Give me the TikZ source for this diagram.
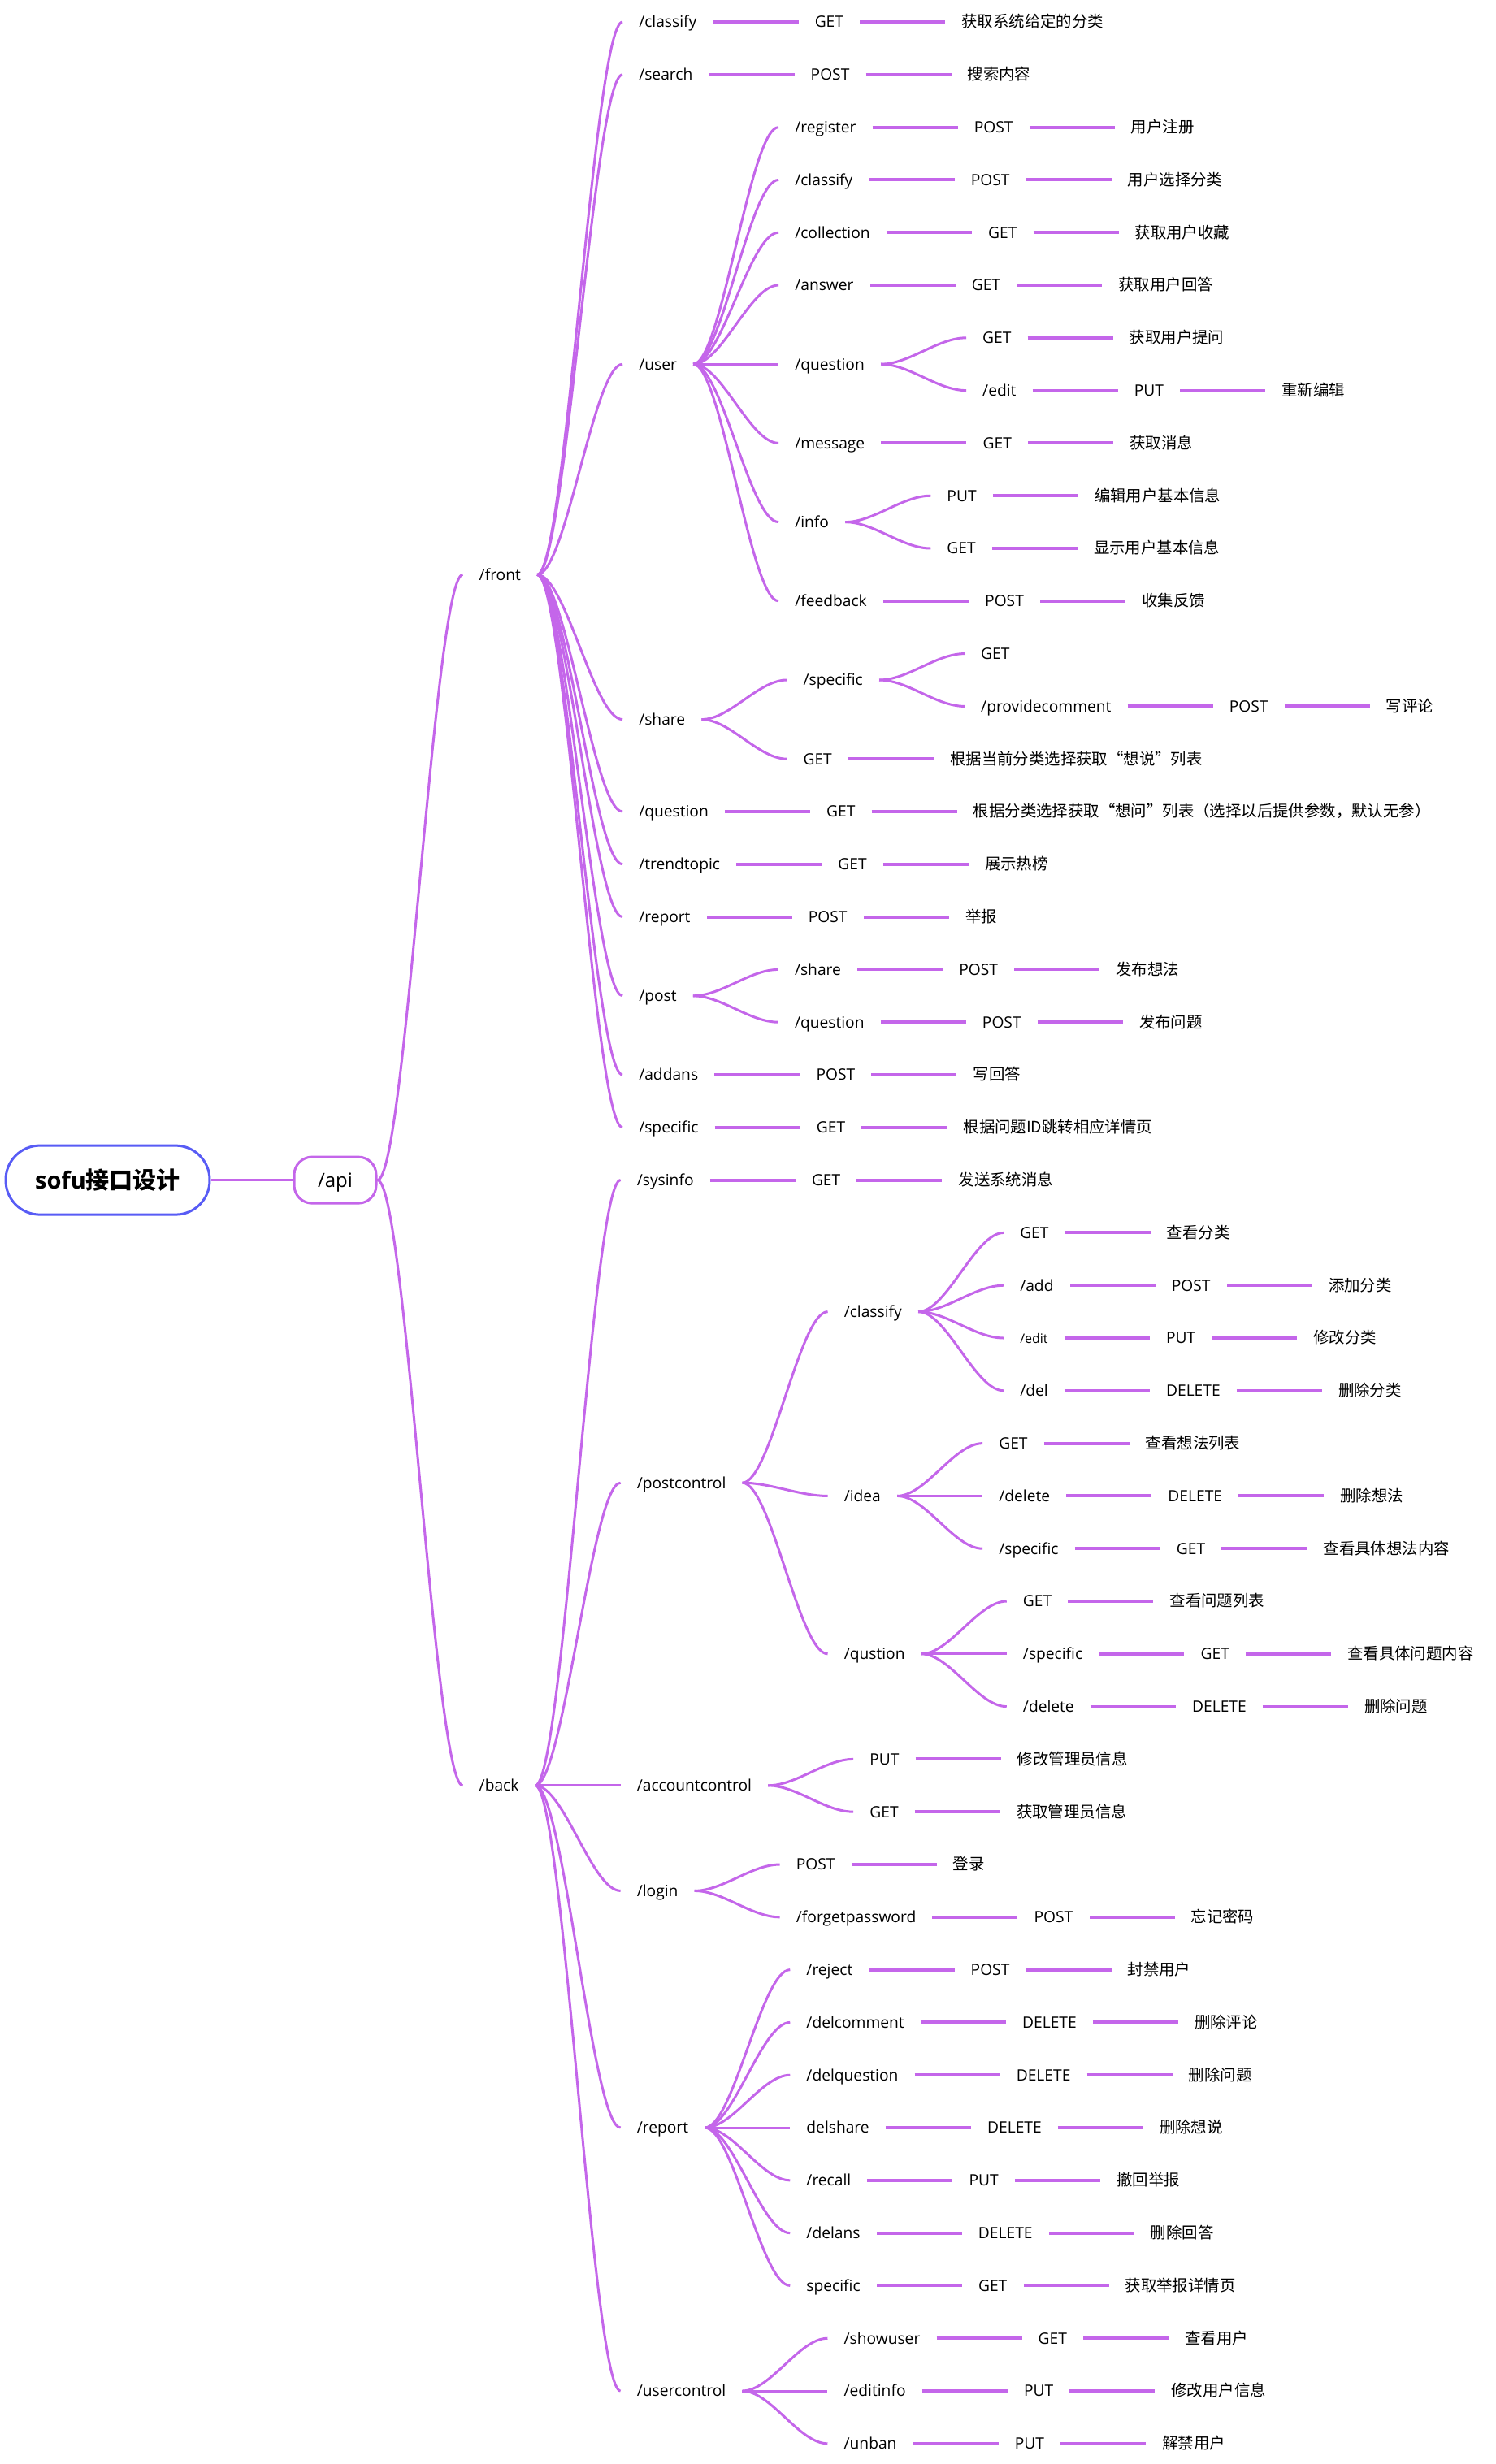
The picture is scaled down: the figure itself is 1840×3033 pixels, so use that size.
\documentclass[tikz,border=0pt]{standalone}
\usepackage{fontspec}
\setmainfont{Open Sans}
\newfontfamily\cjk{Noto Sans CJK SC}
\definecolor{mmpurple}{RGB}{196,102,234}
\definecolor{mmblue}{RGB}{88,92,245}
\tikzset{
  tn/.style={inner xsep=20pt, inner ysep=0pt, text height=18.7pt, text depth=5pt,
             font=\fontsize{19.2}{23}\selectfont, text=black},
  desc/.style={font=\cjk\fontsize{19.4}{23}\selectfont},
  sl/.style={draw=mmpurple, line width=4pt},
  cl/.style={draw=mmpurple, line width=3pt},
  rootbox/.style={draw=mmblue, line width=3pt, rounded corners=42pt, minimum width=251pt,
             minimum height=85pt, inner sep=0pt, font=\bfseries\fontsize{29}{34}\selectfont,
             text height=29.4pt, text depth=8pt, fill=white},
  apibox/.style={draw=mmpurple, line width=3pt, rounded corners=22pt, minimum width=101pt,
             minimum height=57pt, inner sep=0pt, font=\fontsize{24}{28}\selectfont,
             text height=23.1pt, text depth=6pt, fill=white},
}
% child node placed 105pt right of its parent, on a given row
\newcommand\mmkid[5][]{%
  \path (#3.east) ++(105,0) coordinate (t-#2);
  \coordinate (y-#2) at (0,{27+64.8*(#4)});
  \node[tn,anchor=west,#1] (#2) at (t-#2 |- y-#2) {#5};}
\newcommand\mmcrv[2]{\draw[cl] (#1.east) .. controls +(35,0) and +(-35,0) .. (#2.west);}
\newcommand\mmlnk[2]{\draw[sl] (#1.east) -- (#2.west);}
% path -> method -> description
\newcommand\mmthree[7][]{%
  \mmkid[#1]{#2}{#3}{#4}{#5}\mmcrv{#3}{#2}%
  \mmkid{#2m}{#2}{#4}{#6}\mmlnk{#2}{#2m}%
  \mmkid[desc]{#2d}{#2m}{#4}{#7}\mmlnk{#2m}{#2d}}
% method -> description
\newcommand\mmtwo[5]{%
  \mmkid{#1}{#2}{#3}{#4}\mmcrv{#2}{#1}%
  \mmkid[desc]{#1d}{#1}{#3}{#5}\mmlnk{#1}{#1d}}
\begin{document}
\begin{tikzpicture}[x=1pt,y=-1pt]
\useasboundingbox (0,0) rectangle (1840,3033);
\fill[white] (0,0) rectangle (1840,3033);

\node[rootbox] (root) at (132.5,1452.6) {sofu{\cjk 接口设计}};
\node[apibox] (api) at (412.5,1452.6) {/api};
\draw[cl] (root.east) -- (api.west);

% ---------------- front ----------------
\mmkid{front}{api}{10.5}{/front}\mmcrv{api}{front}
\mmthree{fa}{front}{0}{/classify}{GET}{获取系统给定的分类}
\mmthree{fb}{front}{1}{/search}{POST}{搜索内容}
\mmkid{fu}{front}{6.5}{/user}\mmcrv{front}{fu}
 \mmthree{fua}{fu}{2}{/register}{POST}{用户注册}
 \mmthree{fub}{fu}{3}{/classify}{POST}{用户选择分类}
 \mmthree{fuc}{fu}{4}{/collection}{GET}{获取用户收藏}
 \mmthree{fud}{fu}{5}{/answer}{GET}{获取用户回答}
 \mmkid{fue}{fu}{6.5}{/question}\mmcrv{fu}{fue}
  \mmtwo{fuea}{fue}{6}{GET}{获取用户提问}
  \mmthree{fueb}{fue}{7}{/edit}{PUT}{重新编辑}
 \mmthree{fuf}{fu}{8}{/message}{GET}{获取消息}
 \mmkid{fug}{fu}{9.5}{/info}\mmcrv{fu}{fug}
  \mmtwo{fuga}{fug}{9}{PUT}{编辑用户基本信息}
  \mmtwo{fugb}{fug}{10}{GET}{显示用户基本信息}
 \mmthree{fuh}{fu}{11}{/feedback}{POST}{收集反馈}
\mmkid{fs}{front}{13.25}{/share}\mmcrv{front}{fs}
 \mmkid{fsa}{fs}{12.5}{/specific}\mmcrv{fs}{fsa}
  \mmkid{fsaa}{fsa}{12}{GET}\mmcrv{fsa}{fsaa}
  \mmthree{fsab}{fsa}{13}{/providecomment}{POST}{写评论}
 \mmtwo{fsb}{fs}{14}{GET}{根据当前分类选择获取“想说”列表}
\mmthree{fq}{front}{15}{/question}{GET}{根据分类选择获取“想问”列表（选择以后提供参数，默认无参）}
\mmthree{ft}{front}{16}{/trendtopic}{GET}{展示热榜}
\mmthree{fr}{front}{17}{/report}{POST}{举报}
\mmkid{fp}{front}{18.5}{/post}\mmcrv{front}{fp}
 \mmthree{fpa}{fp}{18}{/share}{POST}{发布想法}
 \mmthree{fpb}{fp}{19}{/question}{POST}{发布问题}
\mmthree{fad}{front}{20}{/addans}{POST}{写回答}
\mmthree{fsp}{front}{21}{/specific}{GET}{根据问题ID跳转相应详情页}

% ---------------- back ----------------
\mmkid{back}{api}{33.5}{/back}\mmcrv{api}{back}
\mmthree{ba}{back}{22}{/sysinfo}{GET}{发送系统消息}
\mmkid{bp}{back}{27.75}{/postcontrol}\mmcrv{back}{bp}
 \mmkid{bpa}{bp}{24.5}{/classify}\mmcrv{bp}{bpa}
  \mmtwo{bpaa}{bpa}{23}{GET}{查看分类}
  \mmthree{bpab}{bpa}{24}{/add}{POST}{添加分类}
  \mmthree[font=\fontsize{16}{19}\selectfont]{bpac}{bpa}{25}{/edit}{PUT}{修改分类}
  \mmthree{bpad}{bpa}{26}{/del}{DELETE}{删除分类}
 \mmkid{bpb}{bp}{28}{/idea}\mmcrv{bp}{bpb}
  \mmtwo{bpba}{bpb}{27}{GET}{查看想法列表}
  \mmthree{bpbb}{bpb}{28}{/delete}{DELETE}{删除想法}
  \mmthree{bpbc}{bpb}{29}{/specific}{GET}{查看具体想法内容}
 \mmkid{bpc}{bp}{31}{/qustion}\mmcrv{bp}{bpc}
  \mmtwo{bpca}{bpc}{30}{GET}{查看问题列表}
  \mmthree{bpcb}{bpc}{31}{/specific}{GET}{查看具体问题内容}
  \mmthree{bpcc}{bpc}{32}{/delete}{DELETE}{删除问题}
\mmkid{bac}{back}{33.5}{/accountcontrol}\mmcrv{back}{bac}
 \mmtwo{baca}{bac}{33}{PUT}{修改管理员信息}
 \mmtwo{bacb}{bac}{34}{GET}{获取管理员信息}
\mmkid{bl}{back}{35.5}{/login}\mmcrv{back}{bl}
 \mmtwo{bla}{bl}{35}{POST}{登录}
 \mmthree{blb}{bl}{36}{/forgetpassword}{POST}{忘记密码}
\mmkid{brp}{back}{40}{/report}\mmcrv{back}{brp}
 \mmthree{bra}{brp}{37}{/reject}{POST}{封禁用户}
 \mmthree{brb}{brp}{38}{/delcomment}{DELETE}{删除评论}
 \mmthree{brc}{brp}{39}{/delquestion}{DELETE}{删除问题}
 \mmthree{brd}{brp}{40}{delshare}{DELETE}{删除想说}
 \mmthree{bre}{brp}{41}{/recall}{PUT}{撤回举报}
 \mmthree{brf}{brp}{42}{/delans}{DELETE}{删除回答}
 \mmthree{brg}{brp}{43}{specific}{GET}{获取举报详情页}
\mmkid{bu}{back}{45}{/usercontrol}\mmcrv{back}{bu}
 \mmthree{bua}{bu}{44}{/showuser}{GET}{查看用户}
 \mmthree{bub}{bu}{45}{/editinfo}{PUT}{修改用户信息}
 \mmthree{buc}{bu}{46}{/unban}{PUT}{解禁用户}
\end{tikzpicture}
\end{document}
